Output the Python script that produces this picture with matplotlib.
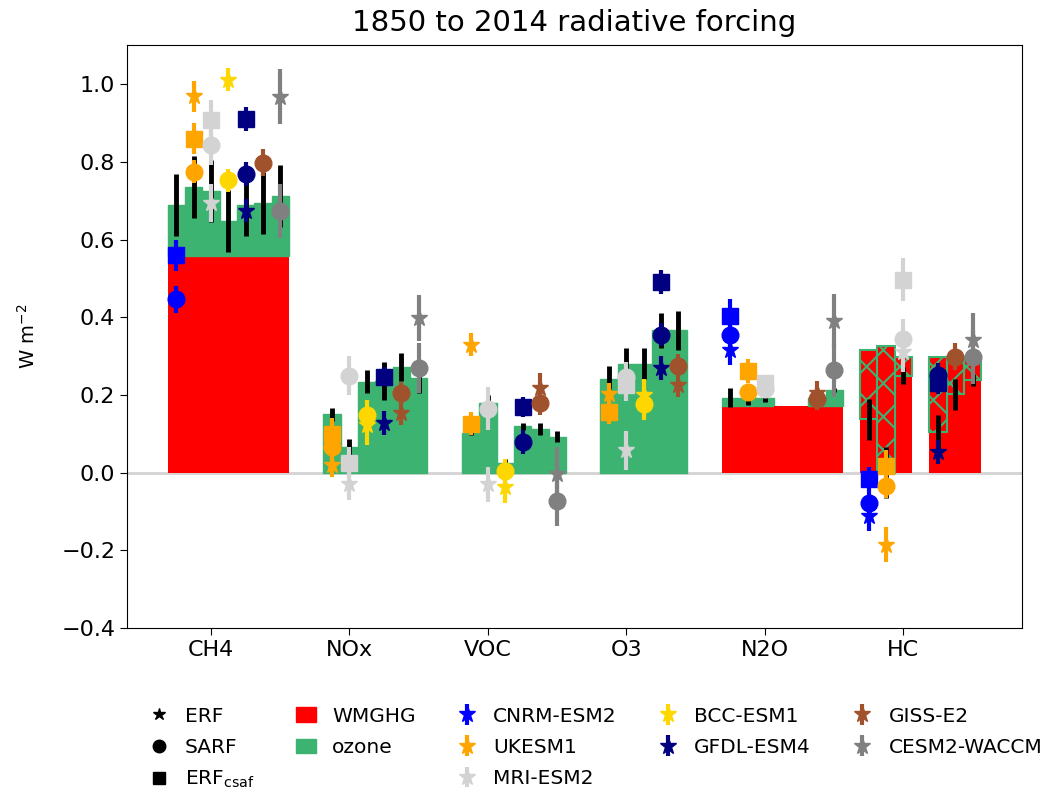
import numpy as np
import matplotlib
matplotlib.use('Agg')
import matplotlib.pyplot as plt
from matplotlib.lines import Line2D
from matplotlib.patches import Patch

nan = np.nan

species = ['CH4', 'NOx', 'VOC', 'O3', 'N2O', 'HC']
models = ['CNRM-ESM2', 'UKESM1', 'MRI-ESM2', 'BCC-ESM1', 'GFDL-ESM4', 'GISS-E2', 'CESM2-WACCM']
model_colors = ['blue', 'orange', 'lightgrey', 'gold', 'navy', 'sienna', 'grey']

# rows = species, columns = models (CNRM, UKESM, MRI, BCC, GFDL, GISS, CESM)
wmghg = np.array([
    [0.557, 0.557, 0.557, 0.557, 0.557, 0.557, 0.557],
    [nan, nan, nan, nan, nan, nan, nan],
    [nan, nan, nan, nan, nan, nan, nan],
    [nan, nan, nan, nan, nan, nan, nan],
    [0.171, 0.171, 0.171, 0.171, 0.171, 0.171, 0.171],
    [0.316, 0.326, 0.297, nan, 0.297, 0.297, 0.297],
])
ozone = np.array([
    [0.132, 0.179, 0.167, 0.091, 0.133, 0.137, 0.155],
    [nan, 0.150, 0.066, 0.234, 0.236, 0.272, 0.244],
    [nan, 0.102, 0.180, 0.024, 0.119, 0.113, 0.093],
    [nan, 0.240, 0.280, 0.280, 0.366, 0.366, nan],
    [0.022, 0.022, 0.022, nan, nan, 0.020, 0.041],
    [-0.179, -0.326, -0.047, nan, -0.193, -0.095, -0.059],
])
total_err = np.array([
    [0.08, 0.08, 0.08, 0.08, 0.08, 0.08, 0.08],
    [nan, 0.017, 0.02, 0.03, 0.05, 0.035, 0.04],
    [nan, 0.005, 0.02, 0.01, 0.01, 0.015, 0.013],
    [nan, 0.035, 0.04, 0.04, 0.045, 0.05, nan],
    [0.025, 0.02, 0.01, nan, nan, 0.01, 0.005],
    [0.052, 0.065, 0.022, nan, 0.045, 0.04, 0.015],
])

erf = np.array([
    [nan, 0.969, 0.694, 1.011, 0.674, nan, 0.968],
    [nan, 0.020, -0.030, 0.122, 0.128, 0.153, 0.398],
    [nan, 0.329, -0.030, -0.038, nan, 0.217, -0.004],
    [nan, 0.202, 0.057, 0.200, 0.269, 0.225, nan],
    [0.316, nan, nan, nan, nan, 0.205, 0.390],
    [-0.111, -0.185, 0.310, nan, 0.053, nan, 0.342],
])
erf_err = np.array([
    [nan, 0.04, 0.05, 0.03, 0.03, nan, 0.07],
    [nan, 0.03, 0.04, 0.05, 0.03, 0.03, 0.06],
    [nan, 0.03, 0.045, 0.04, nan, 0.04, 0.07],
    [nan, 0.03, 0.05, 0.04, 0.03, 0.03, nan],
    [0.04, nan, nan, nan, nan, 0.03, 0.07],
    [0.04, 0.045, 0.05, nan, 0.03, nan, 0.07],
])
sarf = np.array([
    [0.446, 0.775, 0.843, 0.752, 0.769, 0.798, 0.673],
    [nan, 0.065, 0.250, 0.148, nan, 0.204, 0.269],
    [nan, nan, 0.165, 0.005, 0.079, 0.178, -0.073],
    [nan, nan, 0.245, 0.176, 0.355, 0.275, nan],
    [0.355, 0.208, 0.215, nan, nan, 0.190, 0.264],
    [-0.077, -0.034, 0.345, nan, 0.251, 0.298, 0.297],
])
sarf_err = np.array([
    [0.035, 0.03, 0.05, 0.03, 0.03, 0.035, 0.07],
    [nan, 0.03, 0.05, 0.04, nan, 0.03, 0.065],
    [nan, nan, 0.055, 0.03, 0.03, 0.03, 0.065],
    [nan, nan, 0.04, 0.04, 0.03, 0.03, nan],
    [0.03, 0.02, 0.02, nan, nan, 0.03, 0.07],
    [0.03, 0.03, 0.05, nan, 0.03, 0.035, 0.07],
])
csaf = np.array([
    [0.560, 0.860, 0.908, nan, 0.910, nan, nan],
    [nan, 0.100, 0.025, nan, 0.247, nan, nan],
    [nan, 0.126, nan, nan, 0.169, nan, nan],
    [nan, 0.156, 0.225, nan, 0.491, nan, nan],
    [0.402, 0.262, 0.232, nan, nan, nan, nan],
    [-0.016, 0.018, 0.497, nan, 0.232, nan, nan],
])
csaf_err = np.array([
    [0.04, 0.04, 0.05, nan, 0.03, nan, nan],
    [nan, 0.04, 0.04, nan, 0.025, nan, nan],
    [nan, 0.03, nan, nan, 0.025, nan, nan],
    [nan, 0.03, 0.04, nan, 0.03, nan, nan],
    [0.045, 0.03, 0.02, nan, nan, nan, nan],
    [0.03, 0.04, 0.055, nan, 0.03, nan, nan],
])

green = 'mediumseagreen'
plt.rcParams['hatch.color'] = green
plt.rcParams['hatch.linewidth'] = 1.5

fig, ax = plt.subplots(figsize=(10.45, 7.94), dpi=100)
fig.subplots_adjust(left=0.1215, right=0.978, top=0.943, bottom=0.209)

width = 0.125
xpos = np.arange(len(species))
ax.axhline(0, color='lightgrey', lw=2, zorder=0)

model_handles = []
for m, model in enumerate(models):
    x = xpos + (m - 2) * width
    wm = wmghg[:, m]
    oz = ozone[:, m]
    base = np.nan_to_num(wm)
    ax.bar(x, wm, width, color='red', zorder=1)
    pos = oz >= 0
    neg = oz < 0
    ax.bar(x[pos], oz[pos], width, bottom=base[pos], color=green, edgecolor=green, zorder=1)
    ax.bar(x[neg], oz[neg], width, bottom=base[neg], facecolor='none',
           edgecolor=green, hatch='x', lw=1.5, zorder=1.5)
    total = base + oz
    ax.errorbar(x, total, yerr=total_err[:, m], fmt='none', ecolor='k', elinewidth=3.5, zorder=2)

for m, model in enumerate(models):
    x = xpos + (m - 2) * width
    c = model_colors[m]
    h = ax.errorbar(x, erf[:, m], yerr=erf_err[:, m], fmt='*', color=c, ms=12, elinewidth=3, zorder=3)
    ax.errorbar(x, sarf[:, m], yerr=sarf_err[:, m], fmt='o', color=c, ms=12, elinewidth=3, zorder=3)
    ax.errorbar(x, csaf[:, m], yerr=csaf_err[:, m], fmt='s', color=c, ms=12, elinewidth=3, zorder=3)
    model_handles.append(h)

ax.set_xticks(xpos)
ax.set_xticklabels(species)
ax.set_ylim(-0.4, 1.1)
ax.tick_params(labelsize=16, length=5)
ax.set_ylabel('W m$^{-2}$', fontsize=14, labelpad=16)
ax.set_title('1850 to 2014 radiative forcing', fontsize=21, pad=10)

handles = [
    Line2D([], [], marker='*', color='k', ls='none', ms=9),
    Line2D([], [], marker='o', color='k', ls='none', ms=9),
    Line2D([], [], marker='s', color='k', ls='none', ms=9),
    Patch(color='red'),
    Patch(color=green),
    Line2D([], [], alpha=0),
] + model_handles
labels = ['ERF', 'SARF', 'ERF$_{\\mathrm{csaf}}$', 'WMGHG', 'ozone', ' '] + models
fig.legend(handles, labels, ncol=5, loc='upper left', bbox_to_anchor=(0.125, 0.133),
           frameon=False, fontsize=14.5, handlelength=1, columnspacing=2.05,
           labelspacing=0.6)

fig.savefig('out.png', dpi=100)
